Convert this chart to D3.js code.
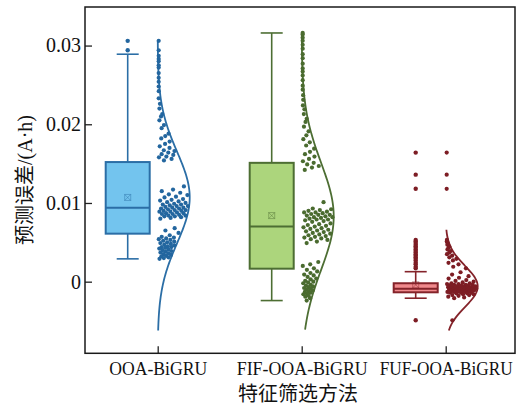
<!DOCTYPE html>
<html>
<head>
<meta charset="utf-8">
<script src="https://cdn.jsdelivr.net/npm/d3@7/dist/d3.min.js"></script>
<style>
  html, body { margin: 0; padding: 0; background: #fff; }
  svg { display: block; }
</style>
</head>
<body>
<svg id="chart" width="526" height="405"></svg>
<script>
// Feature-screening methods compared on the model's prediction error (A·h)
const categories = ["OOA-BiGRU", "FIF-OOA-BiGRU", "FUF-OOA-BiGRU"];
const yTicks = [0, 0.01, 0.02, 0.03];

// Prediction errors of each method
const ooaErrors = [
  0.0306, 0.0294, 0.0287, 0.0283, 0.0280, 0.0275, 0.0272, 0.0265, 0.0259, 0.0254, 0.0248, 0.0242,
  0.0233, 0.0226, 0.0220, 0.0213, 0.0210, 0.0205, 0.0199, 0.0195, 0.0188, 0.0185, 0.0182, 0.0178,
  0.0175, 0.0172, 0.0170, 0.0167, 0.0166, 0.0164, 0.0162, 0.0161, 0.0159, 0.0158, 0.0156, 0.0154,
  0.0121, 0.0117, 0.0115, 0.0113, 0.0111, 0.0110, 0.0108, 0.0107, 0.0105, 0.0104, 0.0103, 0.0102,
  0.0101, 0.0100, 0.0099, 0.0098, 0.0098, 0.0097, 0.0096, 0.0096, 0.0095, 0.0094, 0.0094, 0.0093,
  0.0093, 0.0092, 0.0091, 0.0091, 0.0090, 0.0090, 0.0089, 0.0089, 0.0088, 0.0087, 0.0087, 0.0086,
  0.0086, 0.0085, 0.0084, 0.0084, 0.0083, 0.0083, 0.0082, 0.0081, 0.0080, 0.0068, 0.0065, 0.0062,
  0.0059, 0.0057, 0.0056, 0.0055, 0.0054, 0.0053, 0.0052, 0.0051, 0.0050, 0.0049, 0.0048, 0.0047,
  0.0046, 0.0045, 0.0044, 0.0044, 0.0043, 0.0042, 0.0041, 0.0040, 0.0039, 0.0038, 0.0037, 0.0036,
  0.0035, 0.0034, 0.0033, 0.0032, 0.0031, 0.0030, 0.0029
];
const fifErrors = [
  0.0316, 0.0314, 0.0310, 0.0306, 0.0301, 0.0296, 0.0289, 0.0284, 0.0277, 0.0271, 0.0267, 0.0262,
  0.0256, 0.0249, 0.0244, 0.0237, 0.0231, 0.0224, 0.0219, 0.0213, 0.0207, 0.0203, 0.0197, 0.0191,
  0.0186, 0.0181, 0.0177, 0.0173, 0.0169, 0.0165, 0.0162, 0.0159, 0.0156, 0.0153, 0.0151, 0.0149,
  0.0147, 0.0145, 0.0142, 0.0101, 0.0093, 0.0092, 0.0091, 0.0090, 0.0089, 0.0088, 0.0088, 0.0087,
  0.0086, 0.0085, 0.0085, 0.0084, 0.0083, 0.0082, 0.0082, 0.0081, 0.0080, 0.0079, 0.0079, 0.0078,
  0.0077, 0.0076, 0.0074, 0.0073, 0.0072, 0.0071, 0.0070, 0.0069, 0.0068, 0.0067, 0.0066, 0.0065,
  0.0064, 0.0063, 0.0062, 0.0061, 0.0060, 0.0059, 0.0058, 0.0057, 0.0056, 0.0055, 0.0054, 0.0053,
  0.0051, 0.0049, 0.0025, 0.0022, 0.0020, 0.0017, 0.0015, 0.0013, 0.0011, 0.0009, 0.0008, 0.0006,
  0.0004, 0.0003, 0.0001, 0.0000, -0.0001, -0.0002, -0.0004, -0.0005, -0.0006, -0.0007, -0.0008,
  -0.0009, -0.0010, -0.0011, -0.0012, -0.0013, -0.0014, -0.0015, -0.0016, -0.0018, -0.0019,
  -0.0021, -0.0024
];
const fufErrors = [
  0.0164, 0.0136, 0.0118, 0.0053, 0.0051, 0.0049, 0.0047, 0.0045, 0.0043, 0.0041, 0.0039, 0.0037,
  0.0035, 0.0033, 0.0031, 0.0029, 0.0027, 0.0024, 0.0022, 0.0019, 0.0017, 0.0012, 0.0009, 0.0007,
  0.0005, 0.0004, 0.0002, 0.0001, 0.0000, -0.0001, -0.0002, -0.0002, -0.0003, -0.0003, -0.0004,
  -0.0004, -0.0004, -0.0005, -0.0005, -0.0005, -0.0006, -0.0006, -0.0006, -0.0006, -0.0007,
  -0.0007, -0.0007, -0.0007, -0.0008, -0.0008, -0.0008, -0.0008, -0.0009, -0.0009, -0.0009,
  -0.0009, -0.0010, -0.0010, -0.0010, -0.0010, -0.0011, -0.0011, -0.0011, -0.0012, -0.0012,
  -0.0012, -0.0012, -0.0013, -0.0013, -0.0013, -0.0014, -0.0014, -0.0014, -0.0015, -0.0015,
  -0.0016, -0.0016, -0.0017, -0.0017, -0.0018, -0.0019, -0.0020, -0.0021, -0.0049
];

// Box statistics per method
const whiskerLow = [0.0029, -0.0024, -0.0021];
const quartile1 = [0.0061, 0.00165, -0.00135];
const medians = [0.0094, 0.0070, -0.00089];
const quartile3 = [0.0152, 0.0151, -0.0002];
const whiskerHigh = [0.0289, 0.0316, 0.00127];
const means = [0.0107, 0.0084, -0.0004];

// Fitted normal distribution curves per method
const fitMean = [0.0107, 0.0083, -0.0006];
const fitSd = [0.0058, 0.0068, 0.0026];
const fitFrom = [-0.0062, -0.0061, -0.0062];
const fitTo = [0.0306, 0.0316, 0.0066];

const seriesErrors = [ooaErrors, fifErrors, fufErrors];

// Styling
const boxFill = ["#73c4ee", "#acd57c", "#f08a8d"];
const lineColor = ["#2b6ea6", "#4d6e33", "#84232a"];
const dotColor = ["#23669f", "#4a6b2f", "#7d1d24"];
const serif = "'Liberation Serif', 'Times New Roman', serif";
const cjk = "'Liberation Serif', 'Noto Sans CJK SC', serif";

const svg = d3.select("#chart");
const frame = { left: 85, right: 515, top: 7, bottom: 353.3 };

const y = d3.scaleLinear().domain([-0.0091, 0.0349]).range([frame.bottom, frame.top]);
const x = d3.scalePoint().domain(categories).range([157.7, 445.7]);

const boxOffset = -30;
const boxWidth = 44;
const capWidth = 22;
const curveWidth = 32;

// Axes (inward ticks)
const yAxis = svg.append("g")
  .attr("transform", `translate(${frame.left},0)`)
  .call(d3.axisLeft(y).tickValues(yTicks)
    .tickFormat(d => d === 0 ? "0" : d3.format(".2f")(d))
    .tickSizeInner(-7).tickSizeOuter(0).tickPadding(4));
yAxis.select(".domain").remove();
yAxis.selectAll(".tick line").attr("stroke", "#222").attr("stroke-width", 1.3);
yAxis.selectAll(".tick text").attr("font-family", serif).attr("font-size", 20).attr("fill", "#111");

const labelWidths = [98, 131, 133];
const xAxis = svg.append("g")
  .attr("transform", `translate(0,${frame.bottom})`)
  .call(d3.axisBottom(x).tickSizeInner(-7).tickSizeOuter(0).tickPadding(8));
xAxis.select(".domain").remove();
xAxis.selectAll(".tick line").attr("stroke", "#222").attr("stroke-width", 1.3);
xAxis.selectAll(".tick text")
  .attr("font-family", serif).attr("font-size", 19).attr("fill", "#111")
  .attr("textLength", (d, i) => labelWidths[i]).attr("lengthAdjust", "spacingAndGlyphs");

// Axis titles
svg.append("text")
  .attr("transform", "translate(32,180) rotate(-90)")
  .attr("text-anchor", "middle")
  .attr("font-family", cjk).attr("font-size", 20).attr("fill", "#111")
  .text("预测误差/(A·h)");
svg.append("text")
  .attr("x", 298).attr("y", 401)
  .attr("text-anchor", "middle")
  .attr("font-family", cjk).attr("font-size", 20).attr("fill", "#111")
  .text("特征筛选方法");

const normalRatio = (v, i) => Math.exp(-0.5 * Math.pow((v - fitMean[i]) / fitSd[i], 2));

categories.forEach((cat, i) => {
  const g = svg.append("g");
  const cx = x(cat) + boxOffset;
  const base = x(cat);
  const values = seriesErrors[i];

  // whiskers and caps
  g.append("line").attr("x1", cx).attr("x2", cx)
    .attr("y1", y(quartile3[i])).attr("y2", y(whiskerHigh[i]))
    .attr("stroke", lineColor[i]).attr("stroke-width", 1.6);
  g.append("line").attr("x1", cx).attr("x2", cx)
    .attr("y1", y(quartile1[i])).attr("y2", y(whiskerLow[i]))
    .attr("stroke", lineColor[i]).attr("stroke-width", 1.6);
  [whiskerHigh[i], whiskerLow[i]].forEach(v => {
    g.append("line").attr("x1", cx - capWidth / 2).attr("x2", cx + capWidth / 2)
      .attr("y1", y(v)).attr("y2", y(v))
      .attr("stroke", lineColor[i]).attr("stroke-width", 1.6);
  });

  // box
  g.append("rect")
    .attr("x", cx - boxWidth / 2).attr("width", boxWidth)
    .attr("y", y(quartile3[i])).attr("height", y(quartile1[i]) - y(quartile3[i]))
    .attr("fill", boxFill[i]).attr("stroke", lineColor[i]).attr("stroke-width", 2);
  g.append("line").attr("x1", cx - boxWidth / 2).attr("x2", cx + boxWidth / 2)
    .attr("y1", y(medians[i])).attr("y2", y(medians[i]))
    .attr("stroke", lineColor[i]).attr("stroke-width", 2);

  // mean marker: square with a cross
  const my = y(means[i]);
  const s = 3;
  const mean = g.append("g").attr("stroke", lineColor[i]).attr("stroke-opacity", 0.45)
    .attr("stroke-width", 1).attr("fill", "none");
  mean.append("rect").attr("x", cx - s).attr("y", my - s).attr("width", 2 * s).attr("height", 2 * s);
  mean.append("path").attr("d", `M${cx - s},${my - s}L${cx + s},${my + s}M${cx + s},${my - s}L${cx - s},${my + s}`);

  // outliers beyond the whiskers
  g.selectAll("circle.out")
    .data(values.filter(v => v > whiskerHigh[i] || v < whiskerLow[i]))
    .join("circle").attr("class", "out")
    .attr("cx", cx).attr("cy", v => y(v)).attr("r", 2.2)
    .attr("fill", dotColor[i]);

  // fitted normal curve
  const step = (fitTo[i] - fitFrom[i]) / 200;
  const curvePts = d3.range(fitFrom[i], fitTo[i] + step / 2, step);
  g.append("path")
    .datum(curvePts)
    .attr("d", d3.line().x(v => base + curveWidth * normalRatio(v, i)).y(v => y(v)))
    .attr("fill", "none").attr("stroke", lineColor[i]).attr("stroke-width", 1.8);

  // scattered raw points inside the curve envelope
  g.selectAll("circle.pt")
    .data(values)
    .join("circle").attr("class", "pt")
    .attr("cx", (v, k) => {
      const u = ((k + 1) * 0.6180339887) % 1;
      const w = Math.max(0, curveWidth * normalRatio(v, i) - 2);
      return base + 1 + u * w;
    })
    .attr("cy", v => y(v)).attr("r", 2.1)
    .attr("fill", dotColor[i]);
});

// plot frame
svg.append("rect")
  .attr("x", frame.left).attr("y", frame.top)
  .attr("width", frame.right - frame.left).attr("height", frame.bottom - frame.top)
  .attr("fill", "none").attr("stroke", "#1a1a1a").attr("stroke-width", 1.5);
</script>
</body>
</html>
